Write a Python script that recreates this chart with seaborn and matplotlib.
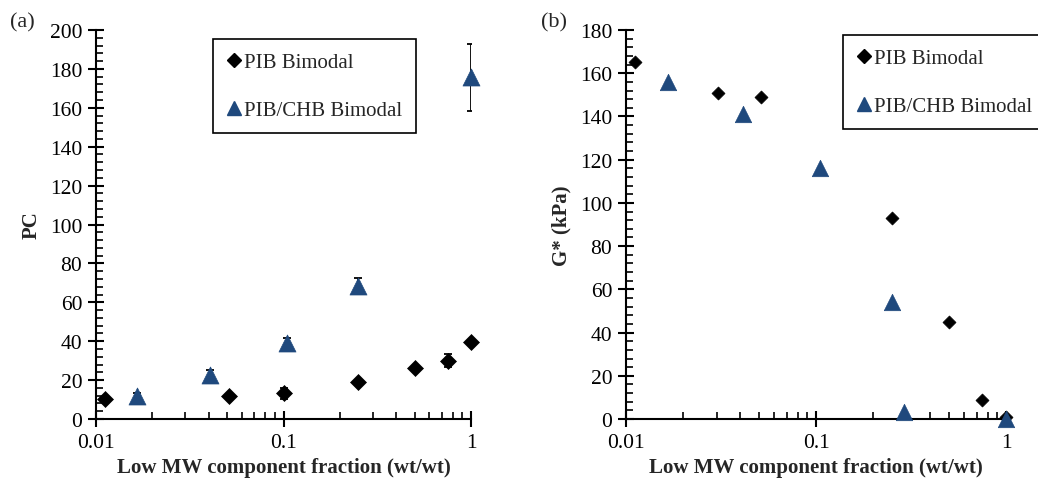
import numpy as np
import pandas as pd
import matplotlib
matplotlib.use("Agg")
import matplotlib.pyplot as plt
import seaborn as sns
from matplotlib.lines import Line2D
from matplotlib.ticker import MultipleLocator, LogLocator, FixedLocator, NullFormatter

# (a) PC
pc_pib_x = [0.0111, 0.051, 0.10, 0.25, 0.50, 0.75, 1.0]
pc_pib_y = [10.3, 11.7, 13.2, 18.9, 26.0, 30.0, 39.5]
pc_pib_err = [0, 0, 3.0, 0, 0, 3.5, 0]
pc_chb_x = [0.0165, 0.0407, 0.1045, 0.249, 1.0]
pc_chb_y = [12.0, 22.8, 39.2, 68.5, 175.8]
pc_chb_err = [1.5, 2.6, 2.3, 3.8, 17.2]

# (b) G*
g_pib_x = [0.0112, 0.0304, 0.0514, 0.251, 0.503, 0.748, 1.0]
g_pib_y = [165.4, 150.7, 148.8, 92.9, 44.7, 8.8, 0.8]
g_chb_x = [0.0167, 0.0411, 0.1045, 0.25, 0.29, 1.0]
g_chb_y = [156.1, 141.1, 116.0, 54.3, 3.1, 0.0]

BLUE = "#1F497D"
sns.set_style("ticks")
plt.rcParams["font.family"] = ["Liberation Serif", "DejaVu Serif"]

fig = plt.figure(figsize=(10.38, 4.81), dpi=100)
axa = fig.add_axes([0.0925, 0.1268, 0.3613, 0.8087])
axb = fig.add_axes([0.6031, 0.1268, 0.3661, 0.8087])


def style_axis(ax, ymax):
    ax.set_xscale("log")
    ax.set_xlim(0.01, 1)
    ax.set_ylim(0, ymax)
    for s in ["top", "right"]:
        ax.spines[s].set_visible(False)
    for s in ["left", "bottom"]:
        ax.spines[s].set_color("black")
        ax.spines[s].set_linewidth(1.5)
    ax.yaxis.set_major_locator(MultipleLocator(20))
    ax.yaxis.set_minor_locator(MultipleLocator(4))
    ax.xaxis.set_major_locator(FixedLocator([0.01, 0.1, 1]))
    ax.xaxis.set_major_formatter(plt.FuncFormatter(lambda v, p: f"{v:g}"))
    ax.xaxis.set_minor_locator(LogLocator(base=10, subs=np.arange(2, 10)))
    ax.xaxis.set_minor_formatter(NullFormatter())
    ax.tick_params(which="major", direction="inout", length=12, width=1.5,
                   labelsize=15.5, colors="black", pad=4)
    ax.tick_params(which="minor", direction="in", length=5, width=1.2, colors="black")
    ax.set_xlabel("Low MW component fraction (wt/wt)", fontsize=15,
                  fontweight="bold", labelpad=4)


def legend(ax, x0, y1):
    handles = [
        Line2D([], [], ls="none", marker="D", ms=7, color="black"),
        Line2D([], [], ls="none", marker="^", ms=10, color=BLUE),
    ]
    leg = ax.legend(handles, ["PIB Bimodal", "PIB/CHB Bimodal"], loc="upper left",
                    bbox_to_anchor=(x0, y1), fontsize=15, frameon=True,
                    fancybox=False, edgecolor="black", framealpha=1,
                    borderpad=0.65, labelspacing=1.35, handlelength=0.7,
                    handletextpad=0.15, borderaxespad=0)
    leg.get_frame().set_linewidth(1.2)
    leg.set_clip_on(False)


# panel (a)
pib_a = pd.DataFrame({"x": pc_pib_x, "y": pc_pib_y, "err": pc_pib_err})
chb_a = pd.DataFrame({"x": pc_chb_x, "y": pc_chb_y, "err": pc_chb_err})
axa.errorbar(pib_a["x"], pib_a["y"], yerr=pib_a["err"], fmt="none",
             ecolor="black", elinewidth=1.3, capsize=3, capthick=1.3, zorder=2)
axa.errorbar(chb_a["x"], chb_a["y"], yerr=chb_a["err"], fmt="none",
             ecolor="black", elinewidth=1.3, capsize=3, capthick=1.3, zorder=2)
sns.scatterplot(data=pib_a, x="x", y="y", marker="D", s=66, color="black",
                edgecolor="black", linewidth=0.5, ax=axa, zorder=3, clip_on=False)
sns.scatterplot(data=chb_a, x="x", y="y", marker="^", s=150, color=BLUE,
                edgecolor=BLUE, linewidth=0.5, ax=axa, zorder=3, clip_on=False)
style_axis(axa, 200)
axa.set_ylabel("PC", fontsize=15, fontweight="bold", labelpad=6)
legend(axa, 0.312, 0.977)

# panel (b)
pib_b = pd.DataFrame({"x": g_pib_x, "y": g_pib_y})
chb_b = pd.DataFrame({"x": g_chb_x, "y": g_chb_y})
sns.scatterplot(data=pib_b, x="x", y="y", marker="D", s=44, color="black",
                edgecolor="black", linewidth=0.5, ax=axb, zorder=3, clip_on=False)
sns.scatterplot(data=chb_b, x="x", y="y", marker="^", s=140, color=BLUE,
                edgecolor=BLUE, linewidth=0.5, ax=axb, zorder=3, clip_on=False)
style_axis(axb, 180)
axb.set_ylabel("G* (kPa)", fontsize=15, fontweight="bold", labelpad=6)
legend(axb, 0.571, 0.987)

fig.text(0.010, 0.953, "(a)", fontsize=16, ha="left", va="center")
fig.text(0.521, 0.953, "(b)", fontsize=16, ha="left", va="center")

fig.savefig("out.png", dpi=100)
